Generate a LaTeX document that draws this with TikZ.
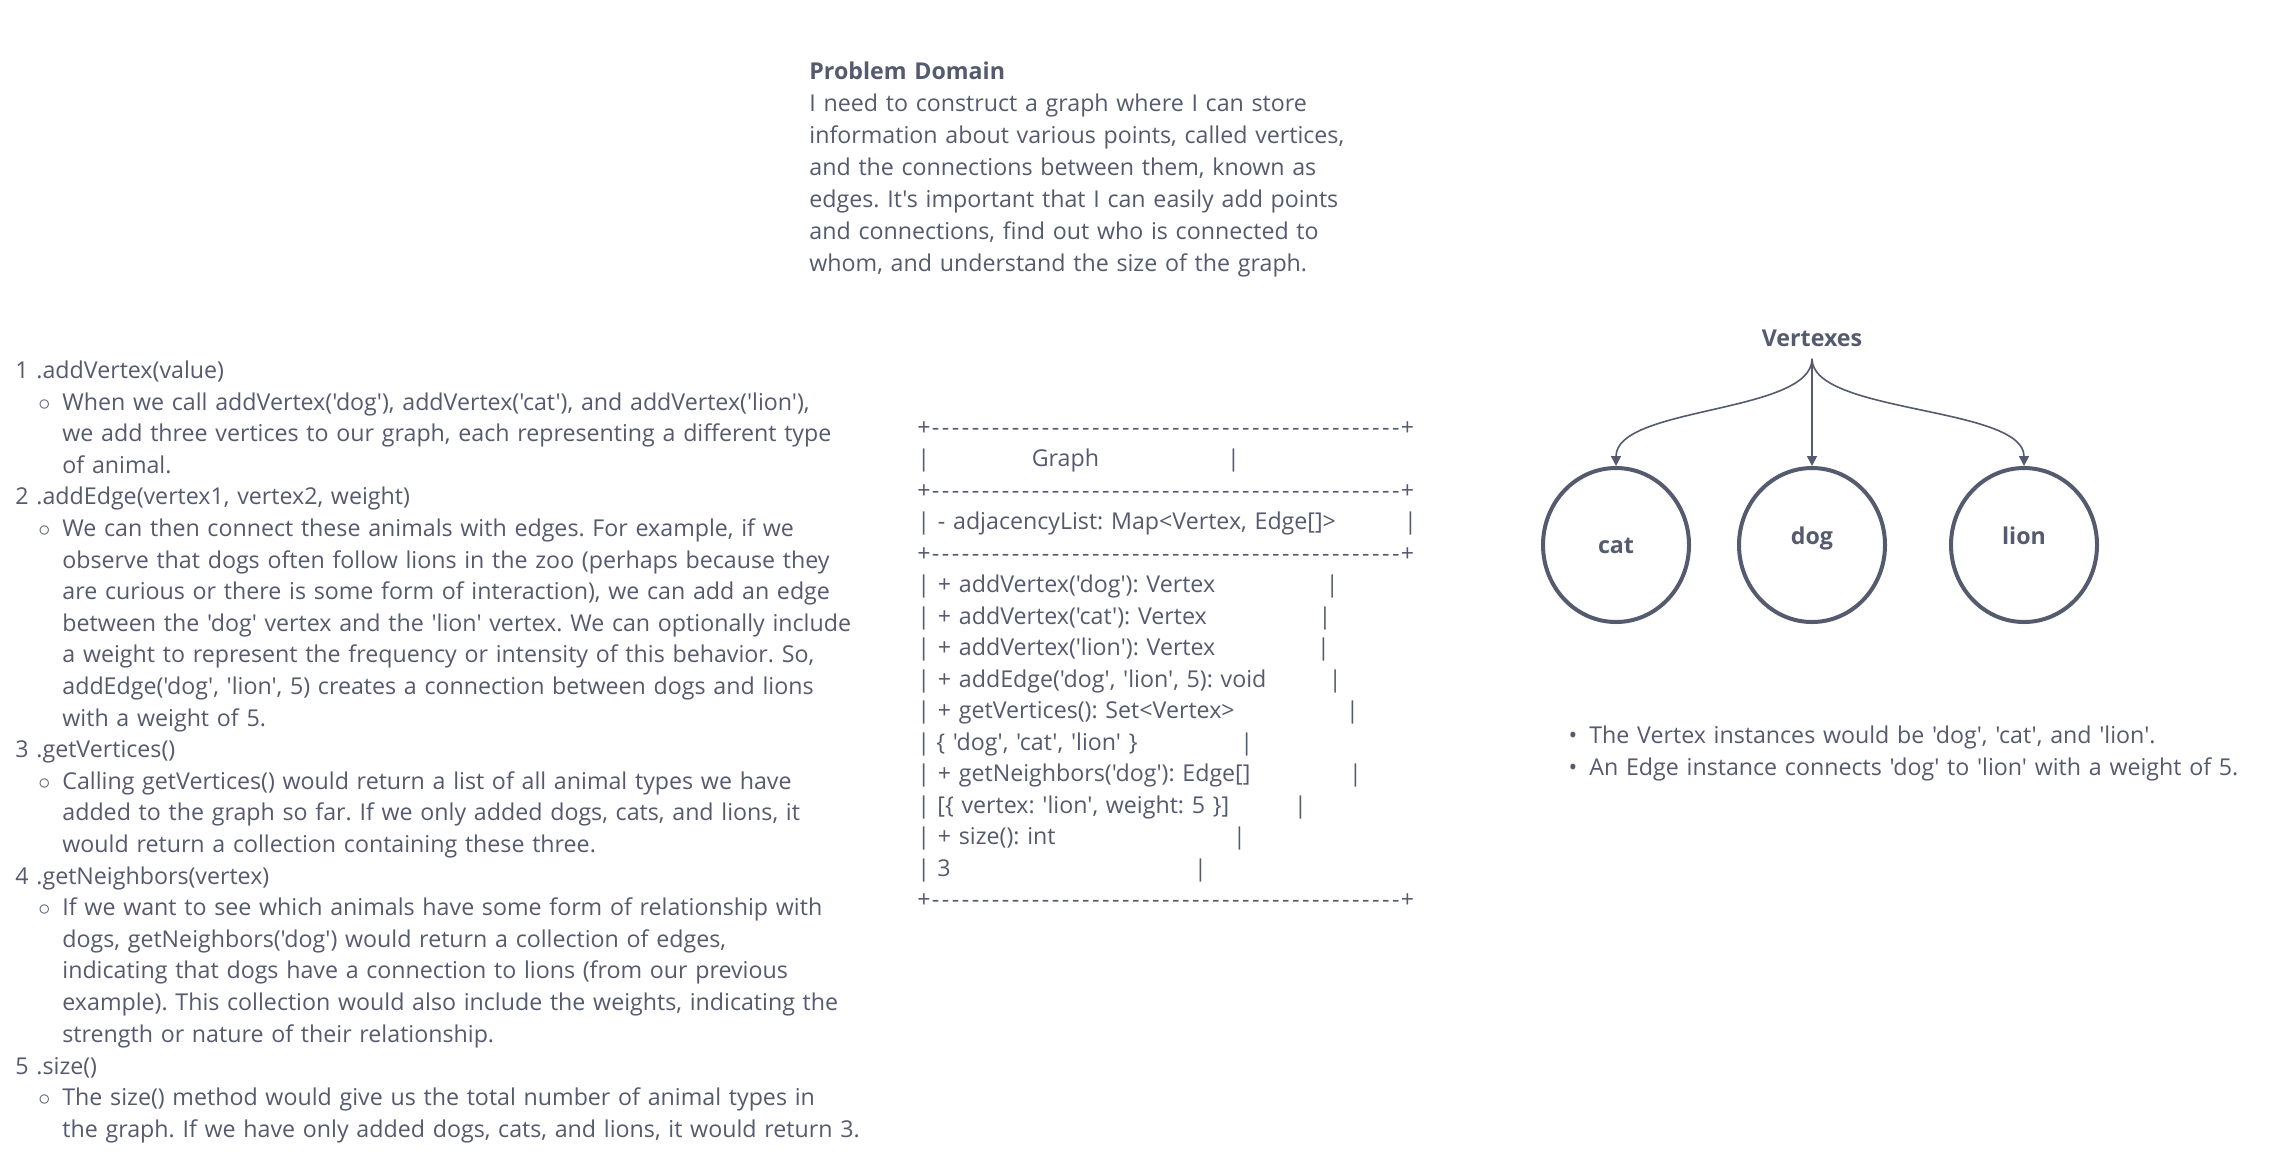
\documentclass[tikz,border=0pt]{standalone}
\usepackage{fontspec}
\setmainfont{Open Sans}[Ligatures=TeXOff]
\usepackage{tikz}
\usetikzlibrary{arrows.meta,shapes.geometric,positioning}
\definecolor{ink}{RGB}{85,91,110}
\newcommand{\dashrule}{+\foreach \x in {1,...,47}{\makebox[5pt]{-}}+}
\frenchspacing

\begin{document}
\begin{tikzpicture}[x=0.5pt,y=-0.5pt,>={Triangle[length=5pt,width=5pt]},color=ink,
    font=\fontsize{11.6pt}{16pt}\selectfont]
    \tikzstyle{para}=[anchor=base west,inner sep=0pt,align=left,text width=500pt]
    \tikzstyle{listtext}=[para,font=\fontsize{11.6pt}{15.8pt}\selectfont]
    \tikzstyle{vertex}=[ellipse,draw=ink,line width=2pt,minimum width=73pt,minimum height=77pt,
    inner sep=0pt,font=\fontsize{11.6pt}{16pt}\selectfont\bfseries,text height=8pt,text depth=0pt]
    \tikzstyle{edge}=[->,line width=0.8pt]

    \fill[white] (0,0) rectangle (2274,1164);
    \useasboundingbox (0,0) rectangle (2274,1164);

    % problem statement
    \node[para] (domain) at (809,79) {\textbf{Problem Domain}\\
      I need to construct a graph where I can store\\
      information about various points, called vertices,\\
      and the connections between them, known as\\
      edges. It's important that I can easily add points\\
      and connections, find out who is connected to\\
      whom, and understand the size of the graph.};

    % methods list
    \node[listtext] (add) at (15,378.5) {1 .addVertex(value)};
    \node[listtext] (addtxt) at (62,410.1) {\llap{$\circ$\hspace{6pt}}When we call addVertex('dog'), addVertex('cat'), and addVertex('lion'),\\
      we add three vertices to our graph, each representing a different type\\
      of animal.};
    \node[listtext] (edge) at (15,504.9) {2 .addEdge(vertex1, vertex2, weight)};
    \node[listtext] (edgetxt) at (62,536.5) {\llap{$\circ$\hspace{6pt}}We can then connect these animals with edges. For example, if we\\
      observe that dogs often follow lions in the zoo (perhaps because they\\
      are curious or there is some form of interaction), we can add an edge\\
      between the 'dog' vertex and the 'lion' vertex. We can optionally include\\
      a weight to represent the frequency or intensity of this behavior. So,\\
      addEdge('dog', 'lion', 5) creates a connection between dogs and lions\\
      with a weight of 5.};
    \node[listtext] (verts) at (15,757.7) {3 .getVertices()};
    \node[listtext] (vertstxt) at (62,789.3) {\llap{$\circ$\hspace{6pt}}Calling getVertices() would return a list of all animal types we have\\
      added to the graph so far. If we only added dogs, cats, and lions, it\\
      would return a collection containing these three.};
    \node[listtext] (nbrs) at (15,884.1) {4 .getNeighbors(vertex)};
    \node[listtext] (nbrstxt) at (62,915.7) {\llap{$\circ$\hspace{6pt}}If we want to see which animals have some form of relationship with\\
      dogs, getNeighbors('dog') would return a collection of edges,\\
      indicating that dogs have a connection to lions (from our previous\\
      example). This collection would also include the weights, indicating the\\
      strength or nature of their relationship.};
    \node[listtext] (size) at (15,1074) {5 .size()};
    \node[listtext] (sizetxt) at (62,1105.6) {\llap{$\circ$\hspace{6pt}}The size() method would give us the total number of animal types in\\
      the graph. If we have only added dogs, cats, and lions, it would return 3.};

    % class box
    \node[para,font=\fontsize{11.6pt}{15.75pt}\selectfont] (graph) at (917,435) {\dashrule\\
      \makebox[154.9pt][l]{\makebox[57.2pt][l]{|}Graph}|\\
      \dashrule\\
      \makebox[243.3pt][l]{| - adjacencyList: Map<Vertex, Edge[]>}|\\
      \dashrule\\
      \makebox[204.2pt][l]{| + addVertex('dog'): Vertex}|\\
      \makebox[200.6pt][l]{| + addVertex('cat'): Vertex}|\\
      \makebox[199.9pt][l]{| + addVertex('lion'): Vertex}|\\
      \makebox[205.7pt][l]{| + addEdge('dog', 'lion', 5): void}|\\
      \makebox[214.4pt][l]{| + getVertices(): Set<Vertex>}|\\
      \makebox[161.5pt][l]{\makebox[9.5pt][l]{|}\{ 'dog', 'cat', 'lion' \}}|\\
      \makebox[215.8pt][l]{| + getNeighbors('dog'): Edge[]}|\\
      \makebox[188.3pt][l]{\makebox[10pt][l]{|}[\{ vertex: 'lion', weight: 5 \}]}|\\
      \makebox[157.8pt][l]{| + size(): int}|\\
      \makebox[138.3pt][l]{\makebox[10pt][l]{|}3}|\\
      \dashrule};

    % vertices
    \node[vertex,text depth=9pt] (dog) at (1812,545) {dog};
    \node[vertex,left of=dog,node distance=98pt] (cat) {cat};
    \node[vertex,right of=dog,node distance=106pt,text depth=9pt] (lion) {lion};
    \node[above of=dog,node distance=103.5pt,inner sep=6pt,font=\fontsize{11.6pt}{16pt}\selectfont\bfseries] (vtx) {Vertexes};

    \draw[edge] (vtx.south) .. controls +(0,55) and +(0,-60) .. (cat.north);
    \draw[edge] (vtx.south) -- (dog.north);
    \draw[edge] (vtx.south) .. controls +(0,55) and +(0,-60) .. (lion.north);

    \node[para] (notes) at (1589,743) {\leavevmode\llap{\textbullet\hspace{6pt}}The Vertex instances would be 'dog', 'cat', and 'lion'.\\
      \leavevmode\llap{\textbullet\hspace{6pt}}An Edge instance connects 'dog' to 'lion' with a weight of 5.};
\end{tikzpicture}
\end{document}
